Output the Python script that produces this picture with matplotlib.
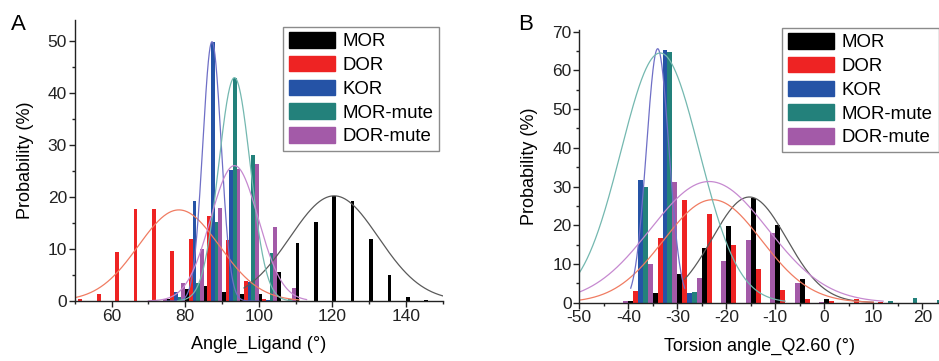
import numpy as np
import matplotlib
matplotlib.use("Agg")
import matplotlib.pyplot as plt
from matplotlib.patches import Patch
from matplotlib.ticker import MultipleLocator

plt.rcParams['font.family'] = ['Liberation Sans', 'DejaVu Sans']
plt.rcParams['axes.unicode_minus'] = False

series = ['MOR', 'DOR', 'KOR', 'MOR-mute', 'DOR-mute']
bar_colors = ['#000000', '#ee2323', '#2553a6', '#23817b', '#a35aa8']
fit_colors = ['#5a5a5a', '#f07c62', '#6f6fc6', '#74b8b0', '#c689d0']

# panel A - Angle_Ligand, bin centres (5 deg bins)
bins_a = [52.5, 57.5, 62.5, 67.5, 72.5, 77.5, 82.5, 87.5, 92.5, 97.5,
          102.5, 107.5, 112.5, 117.5, 122.5, 127.5, 132.5, 137.5, 142.5, 147.5]
mor_a = [0, 0, 0, 0, 0, 0.4, 2.4, 2.8, 1.7, 1.3,
         1.4, 5.6, 11.1, 15.2, 20.2, 19.3, 12.0, 5.0, 0.8, 0.1]
dor_a = [0.3, 1.4, 9.5, 17.6, 17.6, 9.6, 11.9, 16.3, 11.7, 3.9,
         0.3, 0, 0, 0, 0, 0, 0, 0, 0, 0]
kor_a = [0, 0, 0, 0, 0, 1.8, 19.2, 49.8, 25.2, 3.6,
         0.2, 0, 0, 0, 0, 0, 0, 0, 0, 0]
mormute_a = [0, 0, 0, 0, 0, 0.8, 3.4, 15.2, 42.9, 28.0,
             9.2, 0.3, 0, 0, 0, 0, 0, 0, 0, 0]
dormute_a = [0, 0, 0, 0, 0.3, 3.4, 10.0, 17.8, 25.4, 26.3,
             14.3, 2.5, 0, 0, 0, 0, 0, 0, 0, 0]

# gaussian fits (amplitude, centre, width, drawn range)
amp_a = [20.2, 17.5, 49.8, 42.9, 26.0]
mu_a = [120.5, 78.3, 87.3, 93.4, 93.4]
sig_a = [12.0, 11.0, 2.5, 4.3, 6.5]
rng_a = [(96, 150), (50, 111), (75, 100), (78, 109), (70, 113)]

# panel B - Torsion angle_Q2.60
bins_b = [-42.5, -37.5, -32.5, -27.5, -22.5, -17.5, -12.5, -7.5, -2.5, 2.5,
          7.5, 12.5, 17.5, 22.5]
mor_b = [0, 0.5, 2.6, 7.4, 14.0, 19.8, 27.1, 20.0, 6.1, 1.0, 0, 0, 0, 0]
dor_b = [0, 3.1, 16.6, 26.5, 23.0, 15.0, 8.8, 3.3, 0.9, 0.5, 0.9, 0.3, 0, 0]
kor_b = [0, 31.8, 65.4, 2.4, 0, 0, 0, 0, 0, 0, 0, 0, 0, 0]
mormute_b = [0, 29.9, 64.7, 2.8, 0, 0, 0, 0, 0, 0, 0, 0.4, 1.3, 0.7]
dormute_b = [0.4, 9.9, 31.2, 6.3, 10.8, 16.3, 17.9, 5.2, 0.3, 0, 0, 0, 0, 0]

amp_b = [27.3, 26.6, 65.6, 64.5, 31.3]
mu_b = [-15.3, -22.8, -34.0, -33.5, -23.5]
sig_b = [7.6, 10.0, 2.3, 8.0, 12.0]
rng_b = [(-28.5, 10), (-50, 10), (-39.5, -28.5), (-50, -8), (-50, 12)]


def draw_panel(ax, bins, data, amp, mu, sig, rng):
    bins = np.array(bins)
    for i, vals in enumerate(data):
        ax.bar(bins + (i - 2) * 1.0, vals, width=1.0, color=bar_colors[i],
               linewidth=0, zorder=1)
    for i in range(len(data)):
        x = np.linspace(rng[i][0], rng[i][1], 600)
        y = amp[i] * np.exp(-(x - mu[i]) ** 2 / (2 * sig[i] ** 2))
        ax.plot(x, y, color=fit_colors[i], lw=0.9, zorder=2)
    for s in ['top', 'right']:
        ax.spines[s].set_visible(False)
    for s in ['left', 'bottom']:
        ax.spines[s].set_linewidth(1.0)
        ax.spines[s].set_color('#222222')
    ax.tick_params(which='major', direction='out', length=4, width=1,
                   labelsize=12.5, pad=1.5, colors='#222222')
    ax.tick_params(which='minor', direction='out', length=2, width=1,
                   colors='#222222')
    ax.set_ylabel('Probability (%)', fontsize=13, labelpad=10)


fig = plt.figure(figsize=(9.39, 3.61), dpi=100)

ax1 = fig.add_axes([0.0796, 0.1662, 0.3919, 0.7787])
draw_panel(ax1, bins_a, [mor_a, dor_a, kor_a, mormute_a, dormute_a],
           amp_a, mu_a, sig_a, rng_a)
ax1.set_xlim(50, 150)
ax1.set_ylim(0, 54)
ax1.xaxis.set_major_locator(MultipleLocator(20))
ax1.xaxis.set_minor_locator(MultipleLocator(10))
ax1.yaxis.set_major_locator(MultipleLocator(10))
ax1.yaxis.set_minor_locator(MultipleLocator(5))
ax1.set_xticks([60, 80, 100, 120, 140])
ax1.set_xlabel('Angle_Ligand (°)', fontsize=13, labelpad=9)

ax2 = fig.add_axes([0.6169, 0.1615, 0.3831, 0.755])
draw_panel(ax2, bins_b, [mor_b, dor_b, kor_b, mormute_b, dormute_b],
           amp_b, mu_b, sig_b, rng_b)
ax2.set_xlim(-50, 23.4)
ax2.set_ylim(0, 70.4)
ax2.xaxis.set_major_locator(MultipleLocator(10))
ax2.xaxis.set_minor_locator(MultipleLocator(5))
ax2.yaxis.set_major_locator(MultipleLocator(10))
ax2.yaxis.set_minor_locator(MultipleLocator(5))
ax2.set_xlabel('Torsion angle_Q2.60 (°)', fontsize=13, labelpad=9)

handles = [Patch(facecolor=c, edgecolor=c) for c in bar_colors]
for ax, anchor in [(ax1, (439.5 / 939, 1 - 26.7 / 361)),
                   (ax2, (938.5 / 939, 1 - 27.7 / 361))]:
    leg = ax.legend(handles, series, loc='upper right', bbox_to_anchor=anchor,
                    bbox_transform=fig.transFigure, fontsize=13.4,
                    frameon=True, fancybox=False, handlelength=2.5,
                    handleheight=0.9, handletextpad=0.4, labelspacing=0.3,
                    borderpad=0.3, borderaxespad=0)
    leg.get_frame().set_edgecolor('#6e6e6e')
    leg.get_frame().set_linewidth(1.0)

fig.text(18 / 939, 1 - 25 / 361, 'A', fontsize=16, ha='center', va='center')
fig.text(526 / 939, 1 - 25 / 361, 'B', fontsize=16, ha='center', va='center')

fig.savefig('out.png', dpi=100)
